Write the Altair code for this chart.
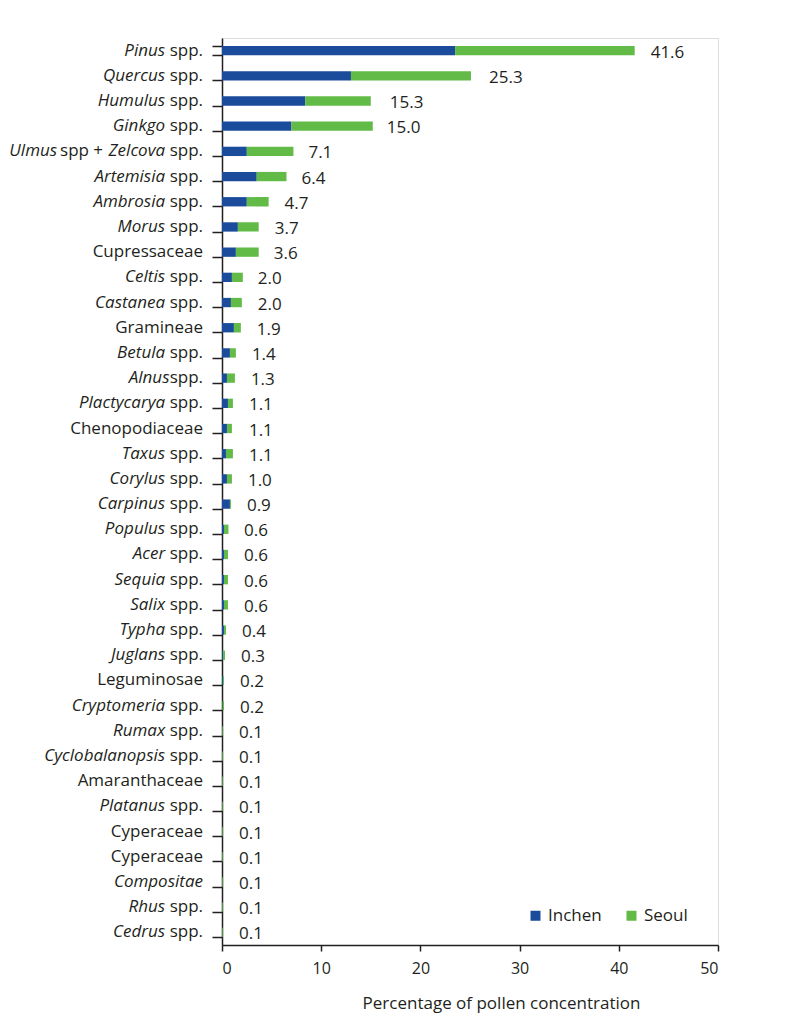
import altair as alt
import pandas as pd

# ---- data ----
label_segments = [
    [("Pinus", True), (" spp.", False)],
    [("Quercus", True), (" spp.", False)],
    [("Humulus", True), (" spp.", False)],
    [("Ginkgo", True), (" spp.", False)],
    [("Ulmus", True), (" spp + ", False), ("Zelcova", True), (" spp.", False)],
    [("Artemisia", True), (" spp.", False)],
    [("Ambrosia", True), (" spp.", False)],
    [("Morus", True), (" spp.", False)],
    [("Cupressaceae", False)],
    [("Celtis", True), (" spp.", False)],
    [("Castanea", True), (" spp.", False)],
    [("Gramineae", False)],
    [("Betula", True), (" spp.", False)],
    [("Alnus", True), ("spp.", False)],
    [("Plactycarya", True), (" spp.", False)],
    [("Chenopodiaceae", False)],
    [("Taxus", True), (" spp.", False)],
    [("Corylus", True), (" spp.", False)],
    [("Carpinus", True), (" spp.", False)],
    [("Populus", True), (" spp.", False)],
    [("Acer", True), (" spp.", False)],
    [("Sequia", True), (" spp.", False)],
    [("Salix", True), (" spp.", False)],
    [("Typha", True), (" spp.", False)],
    [("Juglans", True), (" spp.", False)],
    [("Leguminosae", False)],
    [("Cryptomeria", True), (" spp.", False)],
    [("Rumax", True), (" spp.", False)],
    [("Cyclobalanopsis", True), (" spp.", False)],
    [("Amaranthaceae", False)],
    [("Platanus", True), (" spp.", False)],
    [("Cyperaceae", False)],
    [("Cyperaceae", False)],
    [("Compositae", True)],
    [("Rhus", True), (" spp.", False)],
    [("Cedrus", True), (" spp.", False)],
]

inchen = [23.5, 13.0, 8.4, 7.0, 2.5, 3.5, 2.5, 1.6, 1.4, 1.0, 0.9, 1.2,
          0.8, 0.5, 0.6, 0.5, 0.4, 0.5, 0.8, 0.2, 0.2, 0.2, 0.2, 0.2,
          0.1, 0.1, 0.05, 0.03, 0.03, 0.03, 0.03, 0.03, 0.03, 0.03, 0.03, 0.03]
seoul = [18.1, 12.1, 6.6, 8.2, 4.7, 3.0, 2.2, 2.1, 2.3, 1.1, 1.1, 0.7,
         0.6, 0.8, 0.5, 0.5, 0.7, 0.5, 0.1, 0.45, 0.4, 0.4, 0.4, 0.2,
         0.2, 0.1, 0.15, 0.07, 0.07, 0.07, 0.07, 0.07, 0.07, 0.07, 0.07, 0.07]
total_labels = ["41.6", "25.3", "15.3", "15.0", "7.1", "6.4", "4.7", "3.7", "3.6",
                "2.0", "2.0", "1.9", "1.4", "1.3", "1.1", "1.1", "1.1", "1.0",
                "0.9", "0.6", "0.6", "0.6", "0.6", "0.4", "0.3", "0.2", "0.2",
                "0.1", "0.1", "0.1", "0.1", "0.1", "0.1", "0.1", "0.1", "0.1"]
series = ["Inchen", "Seoul"]
x_ticks = [0, 10, 20, 30, 40, 50]

# ---- styling ----
FONT = "Open Sans"
INK = "#231F20"
BLUE = "#1B4B9B"
GREEN = "#62BB46"
FS = 17
LABEL_X = -19  # right edge of category labels (px from plot left)
SEG_W = {" spp.": 37.9, "spp.": 33.5, " spp + ": 46.0, "Zelcova": 62.0}

keys = [f"r{i:02d}" for i in range(len(label_segments))]

bar_rows = []
for k, a, b in zip(keys, inchen, seoul):
    bar_rows.append({"key": k, "series": series[0], "value": a, "ord": 0})
    bar_rows.append({"key": k, "series": series[1], "value": b, "ord": 1})
bars_df = pd.DataFrame(bar_rows)

val_df = pd.DataFrame({"key": keys, "label": total_labels,
                       "total": [float(t) for t in total_labels]})

seg_rows = []
for k, segs in zip(keys, label_segments):
    off = 0.0
    for text, ital in reversed(segs):
        seg_rows.append({"key": k, "text": text, "italic": ital, "off": round(off, 1)})
        off += SEG_W.get(text, 0.0)
seg_df = pd.DataFrame(seg_rows)

y_enc = alt.Y("key:N", sort=keys,
              scale=alt.Scale(domain=keys, paddingInner=0.63, paddingOuter=0.315),
              axis=alt.Axis(labels=False, title=None, tickBand="extent", tickSize=10,
                            tickColor=INK, domainColor=INK, tickWidth=1.5, domainWidth=1.5))

bars = alt.Chart(bars_df).mark_bar().encode(
    y=y_enc,
    x=alt.X("value:Q", stack="zero",
            scale=alt.Scale(domain=[0, 50], nice=False),
            axis=alt.Axis(values=x_ticks, title="Percentage of pollen concentration",
                          grid=False, tickSize=6, tickColor=INK, domainColor=INK,
                          tickWidth=1.5, domainWidth=1.5, labelFontSize=16,
                          labelColor=INK, labelPadding=9, labelFont=FONT,
                          titleFont=FONT, titleFontSize=17, titleFontWeight="normal",
                          titleColor=INK, titleX=279, titleY=58,
                          titleBaseline="middle")),
    color=alt.Color("series:N",
                    scale=alt.Scale(domain=series, range=[BLUE, GREEN]),
                    legend=alt.Legend(title=None, orient="none", legendX=305,
                                      legendY=869, direction="horizontal",
                                      symbolType="square", symbolSize=100,
                                      symbolStrokeWidth=0, labelFontSize=FS,
                                      labelFont=FONT, labelColor=INK,
                                      columnPadding=21, labelOffset=4, padding=0)),
    order=alt.Order("ord:Q"),
)

vals = alt.Chart(val_df).mark_text(align="left", baseline="middle", dx=16, dy=2,
                                   fontSize=FS, font=FONT, color=INK).encode(
    y=alt.Y("key:N", sort=keys), x=alt.X("total:Q"), text="label:N")

layers = [bars, vals]
for (off, ital), grp in seg_df.groupby(["off", "italic"]):
    layers.append(
        alt.Chart(grp).mark_text(align="right", baseline="middle", fontSize=FS,
                                 font=FONT, color=INK,
                                 fontStyle="italic" if ital else "normal").encode(
            y=alt.Y("key:N", sort=keys), x=alt.value(LABEL_X - off), text="text:N")
    )

chart = alt.layer(*layers).properties(
    width=496, height=907,
    padding={"left": 214, "top": 30, "right": 40, "bottom": 80},
    autosize=alt.AutoSizeParams(type="none"),
).configure_view(stroke=None).configure(font=FONT)

chart.save("out.html", embed_options={"renderer": "svg", "actions": False})
